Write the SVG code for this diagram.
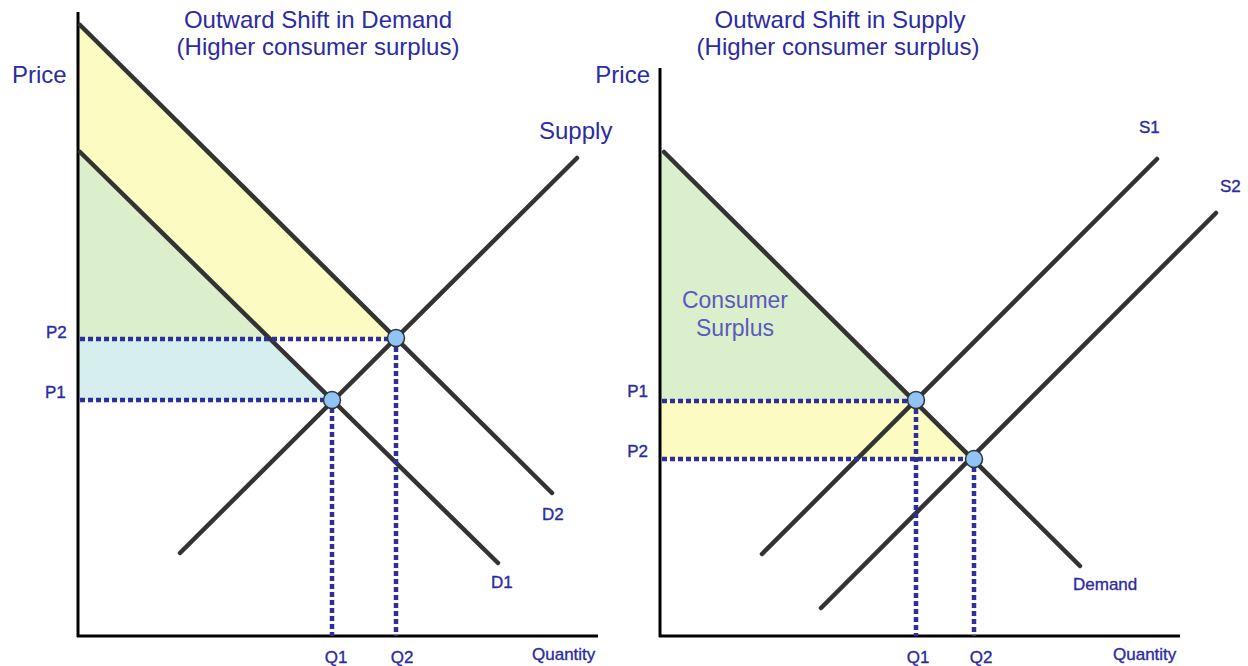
<svg xmlns="http://www.w3.org/2000/svg" width="1248" height="666" viewBox="0 0 1248 666">
<style>
.t{font-family:"Liberation Sans",Arial,sans-serif;fill:#2b2ba3}
.big{font-size:24px}
.sm{font-size:17px;stroke:#2b2ba3;stroke-width:0.35}
.cs{font-family:"Liberation Sans",Arial,sans-serif;font-size:23px;fill:#5a5abd}
.axis{stroke:#000;stroke-width:3;fill:none}
.curve{stroke:#333;stroke-width:4.5;stroke-linecap:round;fill:none}
.dot{stroke:#2e2e9c;stroke-width:4.5;stroke-dasharray:5 3;fill:none}
.eq{fill:#90c4f6;stroke:#333;stroke-width:1.5}
</style>
<rect width="1248" height="666" fill="#fff"/>
<g id="left-chart">
<g id="left-areas">
<polygon points="78,22 396,338 270,338 78,150" fill="#fbfbc2"/>
<polygon points="78,150 270,338 78,338" fill="#dcefcc"/>
<polygon points="78,338 270,338 332,400 78,400" fill="#d6eeee"/>
</g>
<g id="left-axes">
<line class="axis" x1="78" y1="12" x2="78" y2="637"/>
<line class="axis" x1="77" y1="636" x2="598" y2="636"/>
</g>
<g id="connectors-left">
<line class="curve" x1="80" y1="25" x2="552" y2="493"/>
<line class="curve" x1="80" y1="152" x2="498" y2="563"/>
<line class="curve" x1="180" y1="553" x2="577" y2="158"/>
<line class="dot" x1="80" y1="339" x2="396" y2="339"/>
<line class="dot" x1="80" y1="400" x2="332" y2="400"/>
<line class="dot" x1="332" y1="400" x2="332" y2="636"/>
<line class="dot" x1="396" y1="339" x2="396" y2="636"/>
</g>
<g id="left-equilibria">
<circle class="eq" cx="332" cy="400" r="8.5"/>
<circle class="eq" cx="396" cy="338" r="8.5"/>
</g>
<g id="left-labels">
<text class="t big" x="318" y="28" text-anchor="middle">Outward Shift in Demand</text>
<text class="t big" x="318" y="55" text-anchor="middle">(Higher consumer surplus)</text>
<text class="t big" x="12" y="83">Price</text>
<text class="t big" x="539" y="139">Supply</text>
<text class="t sm" x="46" y="338">P2</text>
<text class="t sm" x="45" y="398">P1</text>
<text class="t sm" x="542" y="520">D2</text>
<text class="t sm" x="491" y="588">D1</text>
<text class="t sm" x="336" y="663" text-anchor="middle">Q1</text>
<text class="t sm" x="402" y="663" text-anchor="middle">Q2</text>
<text class="t sm" x="532" y="660">Quantity</text>
</g>
</g>
<g id="right-chart">
<g id="right-areas">
<polygon points="660,150 916,400 660,400" fill="#dcefcc"/>
<polygon points="660,400 916,400 974,459 660,459" fill="#fbfbc2"/>
</g>
<g id="right-axes">
<line class="axis" x1="660" y1="68" x2="660" y2="637"/>
<line class="axis" x1="659" y1="636" x2="1180" y2="636"/>
</g>
<g id="connectors-right">
<line class="curve" x1="664" y1="152" x2="1080" y2="566"/>
<line class="curve" x1="762" y1="554" x2="1157" y2="159"/>
<line class="curve" x1="821" y1="608" x2="1216" y2="213"/>
<line class="dot" x1="662" y1="401" x2="916" y2="401"/>
<line class="dot" x1="662" y1="459" x2="974" y2="459"/>
<line class="dot" x1="916" y1="401" x2="916" y2="636"/>
<line class="dot" x1="974" y1="459" x2="974" y2="636"/>
</g>
<g id="right-equilibria">
<circle class="eq" cx="916" cy="400" r="8.5"/>
<circle class="eq" cx="974" cy="459" r="8.5"/>
</g>
<g id="right-labels">
<text class="t big" x="840" y="28" text-anchor="middle">Outward Shift in Supply</text>
<text class="t big" x="838" y="55" text-anchor="middle">(Higher consumer surplus)</text>
<text class="t big" x="650" y="83" text-anchor="end">Price</text>
<text class="cs" x="735" y="308" text-anchor="middle">Consumer</text>
<text class="cs" x="735" y="336" text-anchor="middle">Surplus</text>
<text class="t sm" x="1139" y="133">S1</text>
<text class="t sm" x="1220" y="192">S2</text>
<text class="t sm" x="648" y="397" text-anchor="end">P1</text>
<text class="t sm" x="648" y="457" text-anchor="end">P2</text>
<text class="t sm" x="1073" y="590">Demand</text>
<text class="t sm" x="918" y="663" text-anchor="middle">Q1</text>
<text class="t sm" x="981" y="663" text-anchor="middle">Q2</text>
<text class="t sm" x="1113" y="660">Quantity</text>
</g>
</g>
</svg>
